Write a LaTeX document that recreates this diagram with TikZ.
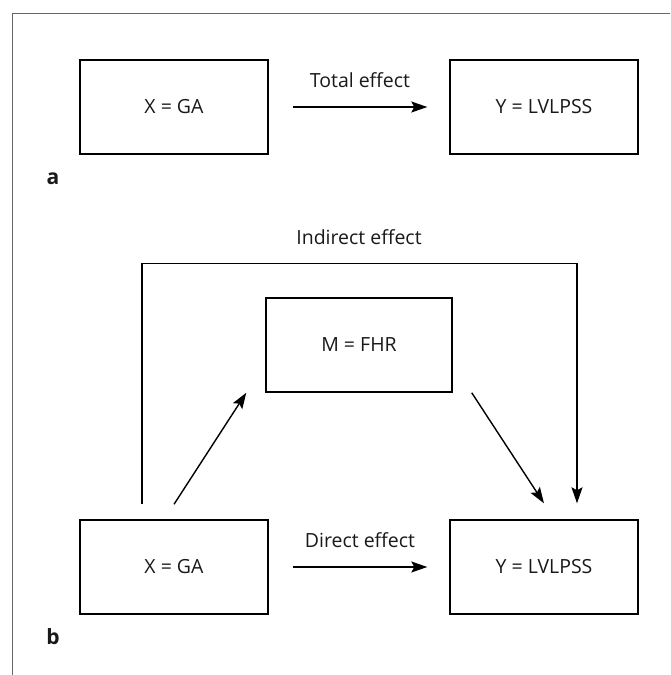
\documentclass[tikz,border=0pt]{standalone}
\usepackage{fontspec}
\setmainfont{Open Sans}
\usetikzlibrary{arrows.meta}
\begin{document}
\begin{tikzpicture}[x=1pt,y=-1pt,
  box/.style={draw=black, line width=1.4pt, minimum width=188pt, minimum height=94pt, inner sep=0pt,
    font=\fontsize{19.5}{23}\selectfont, text=black!90},
  conn/.style={line width=1.4pt, -{Stealth[length=16pt,width=11pt,inset=3pt]}},
  lbl/.style={font=\fontsize{19.5}{23}\selectfont, text=black!90, anchor=base, inner sep=0pt},
  panel/.style={font=\bfseries\fontsize{21}{24}\selectfont, text=black!90, inner sep=0pt}]
\useasboundingbox (0,0) rectangle (670,675);
\fill[white] (0,0) rectangle (670,675);
\draw[black!60, line width=1pt] (12,675) -- (12,13) -- (670,13);
% panel a
\node[box] (ax) at (174,107) {X = GA};
\node[box] (ay) at (544,107) {Y = LVLPSS};
\draw[conn] ([xshift=24pt]ax.east) -- node[lbl, yshift=20pt] {Total effect} ([xshift=-22pt]ay.west);
\node[panel] (pa) at (53,179) {a};
% panel b
\node[box, minimum width=186pt] (m) at (359,345) {M = FHR};
\node[box] (bx) at (174,567) {X = GA};
\node[box] (by) at (544,567) {Y = LVLPSS};
\coordinate (t) at ([yshift=34pt]m.north);
\coordinate (p1) at ([xshift=-32pt,yshift=15pt]bx.north);
\coordinate (p2) at ([xshift=33pt,yshift=16pt]by.north);
\draw[conn] (p1) |- (t) node[lbl, yshift=19pt] {Indirect effect} -| (p2);
\draw[conn] ([yshift=15pt]bx.north) -- ([xshift=-19pt]m.south west);
\draw[conn] ([xshift=19pt]m.south east) -- ([yshift=16pt]by.north);
\draw[conn] ([xshift=24pt]bx.east) -- node[lbl, yshift=20pt] {Direct effect} ([xshift=-22pt]by.west);
\node[panel] (pb) at (53,637) {b};
\end{tikzpicture}
\end{document}
